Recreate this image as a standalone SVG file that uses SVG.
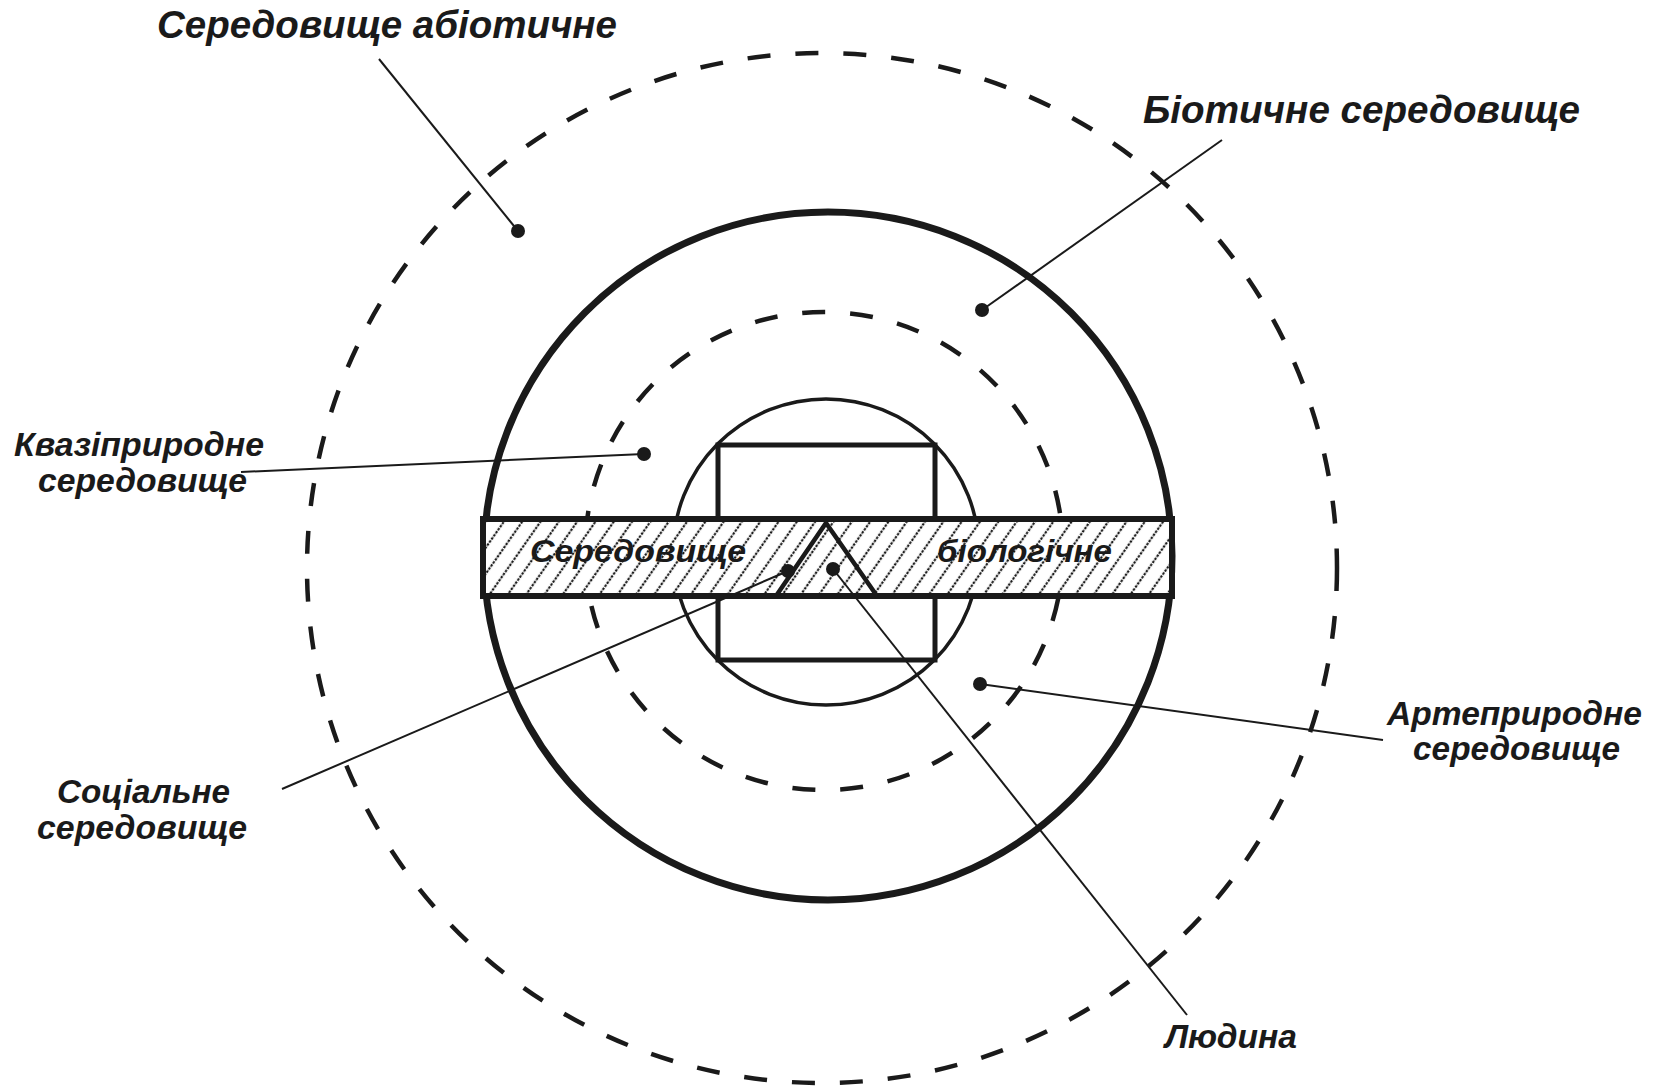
<svg xmlns="http://www.w3.org/2000/svg" width="1661" height="1087" viewBox="0 0 1661 1087">
  <style>
    .lbl { font-family: "Liberation Sans", Arial, sans-serif; font-weight: bold; font-style: italic; fill: #1a1a1a; }
    .big { font-size: 38px; }
    .mid { font-size: 34px; }
    .band { font-size: 31px; }
    .dash { fill: none; stroke: #1a1a1a; stroke-width: 4.5; stroke-dasharray: 23 25; }
    .thick { fill: none; stroke: #1a1a1a; stroke-width: 7; }
    .thin { fill: none; stroke: #1a1a1a; stroke-width: 3.5; }
    .lead { stroke: #1a1a1a; stroke-width: 2; fill: none; }
    .dot { fill: #1a1a1a; }
  </style>
  <defs>
    <pattern id="hatch" patternUnits="userSpaceOnUse" width="15" height="15" patternTransform="rotate(35)">
      <line x1="7" y1="0" x2="7" y2="15" stroke="#1a1a1a" stroke-width="2.2" stroke-dasharray="2.5 1.25"/>
    </pattern>
  </defs>
  <rect width="1661" height="1087" fill="#ffffff"/>

  <g id="abiotic-ring">
    <circle class="dash" cx="822" cy="568" r="515"/>
  </g>
  <g id="biotic-ring">
    <circle class="thick" cx="828" cy="556" r="344"/>
  </g>
  <g id="quasi-ring">
    <circle class="dash" cx="824" cy="551" r="239"/>
  </g>
  <g id="social-circle">
    <circle class="thin" cx="826" cy="552" r="153"/>
    <rect x="718" y="445" width="217" height="215" fill="none" stroke="#1a1a1a" stroke-width="5"/>
  </g>
  <g id="bio-band">
    <rect x="483" y="519" width="689" height="77" fill="#ffffff"/>
    <rect x="483" y="519" width="689" height="77" fill="url(#hatch)"/>
    <rect x="483" y="519" width="689" height="77" fill="none" stroke="#1a1a1a" stroke-width="6"/>
    <text class="lbl band" x="530" y="562" textLength="216" lengthAdjust="spacingAndGlyphs">Середовище</text>
    <text class="lbl band" x="937" y="562" textLength="175" lengthAdjust="spacingAndGlyphs">біологічне</text>
  </g>
  <g id="human">
    <polyline points="776,596 826,523 877,596" fill="none" stroke="#1a1a1a" stroke-width="4.5" stroke-linejoin="miter"/>
  </g>

  <g id="connectors">
    <line class="lead" x1="379" y1="59" x2="518" y2="231"/>
    <line class="lead" x1="1222" y1="140" x2="982" y2="310"/>
    <line class="lead" x1="241" y1="472" x2="644" y2="454"/>
    <line class="lead" x1="282" y1="789" x2="788" y2="571"/>
    <line class="lead" x1="1383" y1="740" x2="980" y2="684"/>
    <line class="lead" x1="1187" y1="1015" x2="833" y2="569"/>
    <circle class="dot" cx="518" cy="231" r="7"/>
    <circle class="dot" cx="982" cy="310" r="7"/>
    <circle class="dot" cx="644" cy="454" r="7"/>
    <circle class="dot" cx="788" cy="571" r="7"/>
    <circle class="dot" cx="980" cy="684" r="7"/>
    <circle class="dot" cx="833" cy="569" r="7"/>
  </g>

  <g id="label-abiotic">
    <text class="lbl big" x="157" y="38" textLength="460" lengthAdjust="spacingAndGlyphs">Середовище абіотичне</text>
  </g>
  <g id="label-biotic">
    <text class="lbl big" x="1143" y="123" textLength="437" lengthAdjust="spacingAndGlyphs">Біотичне середовище</text>
  </g>
  <g id="label-quasi">
    <text class="lbl mid" x="14" y="456" textLength="250" lengthAdjust="spacingAndGlyphs">Квазіприродне</text>
    <text class="lbl mid" x="38" y="492" textLength="209" lengthAdjust="spacingAndGlyphs">середовище</text>
  </g>
  <g id="label-social">
    <text class="lbl mid" x="57" y="803" textLength="173" lengthAdjust="spacingAndGlyphs">Соціальне</text>
    <text class="lbl mid" x="37" y="839" textLength="210" lengthAdjust="spacingAndGlyphs">середовище</text>
  </g>
  <g id="label-arte">
    <text class="lbl mid" x="1387" y="725" textLength="255" lengthAdjust="spacingAndGlyphs">Артеприродне</text>
    <text class="lbl mid" x="1413" y="760" textLength="207" lengthAdjust="spacingAndGlyphs">середовище</text>
  </g>
  <g id="label-human">
    <text class="lbl mid" x="1165" y="1048" textLength="132" lengthAdjust="spacingAndGlyphs">Людина</text>
  </g>
</svg>
